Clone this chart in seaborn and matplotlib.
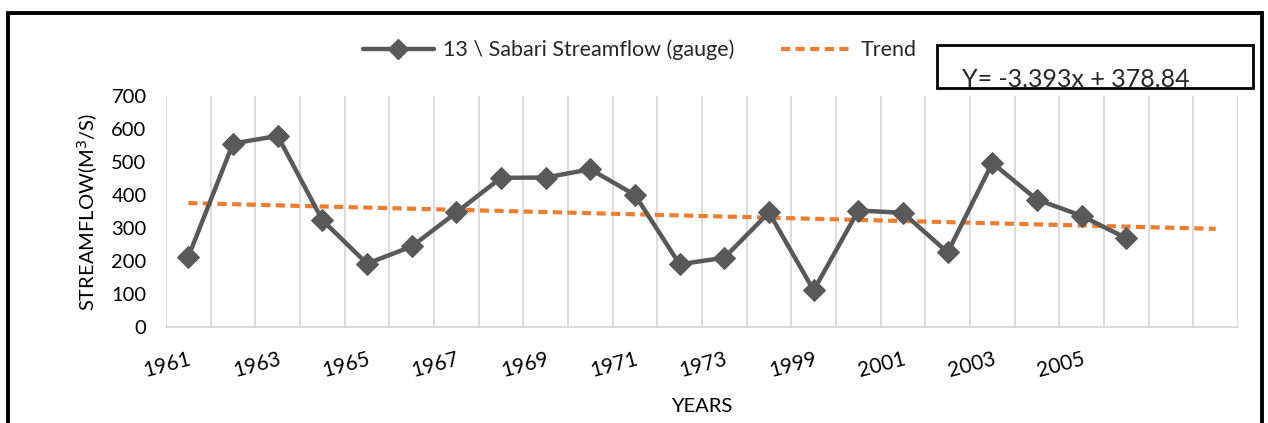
import numpy as np
import pandas as pd
import matplotlib
matplotlib.use("Agg")
import matplotlib.pyplot as plt
from matplotlib.lines import Line2D
from matplotlib.patches import Rectangle
import seaborn as sns

# ---- data ----
years = ["1961", "1962", "1963", "1964", "1965", "1966", "1967", "1968", "1969", "1970",
         "1971", "1972", "1973", "1974", "1999", "2000", "2001", "2002", "2003", "2004",
         "2005", "2006"]
streamflow = [213, 556, 579, 324, 192, 244, 347, 452, 453, 478,
              400, 190, 210, 347, 111, 353, 346, 226, 497, 386,
              337, 269]
forecast_periods = 2
trend_slope = -3.393
trend_intercept = 378.84
yticks = [0, 100, 200, 300, 400, 500, 600, 700]

sns.set_theme(style="white")
plt.rcParams['font.family'] = ['Lato', 'DejaVu Sans']

n_total = len(years) + forecast_periods
df = pd.DataFrame({"pos": np.arange(len(years)), "flow": streamflow})
tx = np.arange(n_total)
trend_df = pd.DataFrame({"pos": tx, "trend": trend_slope * (tx + 1) + trend_intercept})

fig = plt.figure(figsize=(12.68, 4.23), dpi=100)
ax = fig.add_axes([166/1268, 1-327/423, (1238-166)/1268, (327-96)/423])

line_col = "#595959"
trend_col = "#ED7D31"
dash = (0, (2.2, 1.3))

sns.lineplot(data=trend_df, x="pos", y="trend", ax=ax, color=trend_col, lw=3,
             linestyle=dash, zorder=3)
sns.lineplot(data=df, x="pos", y="flow", ax=ax, color=line_col, lw=3.2,
             marker="D", markersize=11, markeredgecolor=line_col, zorder=4)

ax.set_xlim(-0.5, n_total - 0.5)
ax.set_ylim(0, 700)
ax.set_yticks(yticks)
ax.set_yticklabels([str(v) for v in yticks], fontsize=14.5, color="black")

major = list(range(0, len(years), 2))
ax.set_xticks(major)
ax.set_xticklabels([years[i] for i in major], fontsize=15, color="black",
                   rotation=15, ha="right", rotation_mode="anchor")
ax.set_xticks(np.arange(-0.5, n_total, 1.0), minor=True)
ax.grid(False)
ax.grid(True, which="minor", axis="x", color="#D9D9D9", lw=1.3)
ax.tick_params(axis="x", which="both", length=0, pad=16)
ax.tick_params(axis="y", length=0, pad=14)

for s in ["top", "right", "left"]:
    ax.spines[s].set_visible(False)
ax.spines["bottom"].set_color("#D9D9D9")
ax.spines["bottom"].set_linewidth(1.3)

ax.set_xlabel("YEARS", fontsize=14.5, color="black", labelpad=12)
ax.set_ylabel("STREAMFLOW(M$^{3}$/S)", fontsize=14.5, color="black", labelpad=8)

handles = [Line2D([0], [0], color=line_col, lw=3.2, marker="D", markersize=10),
           Line2D([0], [0], color=trend_col, lw=3, linestyle=dash)]
fig.legend(handles, ["13 \\ Sabari Streamflow (gauge)", "Trend"], loc="center",
           bbox_to_anchor=(640/1268, 1-50/423), ncol=2, frameon=False, fontsize=15.5,
           handlelength=3.3, columnspacing=2.2, handletextpad=0.4)

# equation box
fig.patches.append(Rectangle((937/1268, 1-88/423), (1253-937)/1268, (88-45)/423,
                             transform=fig.transFigure, fill=False, ec="black", lw=2))
fig.text(962/1268, 1-87/423, "Y= -3.393x + 378.84", fontsize=18, ha="left", va="baseline")

# outer chart border
fig.patches.append(Rectangle((8/1268, -0.05), (1262-8)/1268, 1.05 - 13/423,
                             transform=fig.transFigure, fill=False, ec="black", lw=2.8))

fig.savefig("out.png", dpi=100)
